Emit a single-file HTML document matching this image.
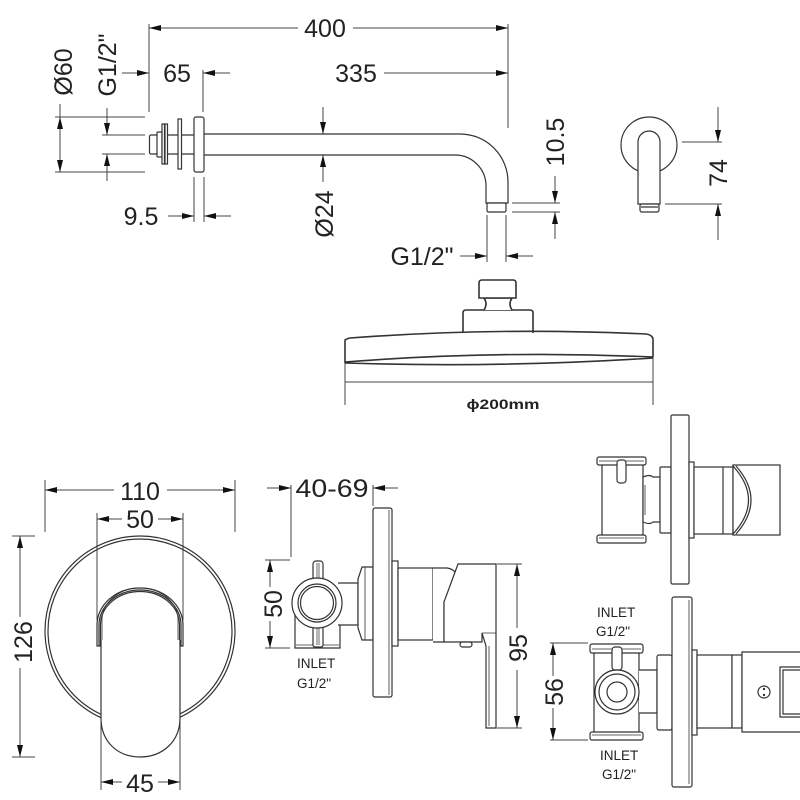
<!DOCTYPE html>
<html><head><meta charset="utf-8"><style>
html,body{margin:0;padding:0;background:#fff;}
svg{display:block;}
text{font-family:"Liberation Sans",Arial,sans-serif;fill:#222;}
.d{font-size:25px;}
.s{font-size:13.5px;}
</style></head><body>
<svg width="800" height="800" viewBox="0 0 800 800" xmlns="http://www.w3.org/2000/svg">
<rect width="800" height="800" fill="#fff"/>
<g fill="none" stroke="#444" stroke-width="1">
<!-- 400 -->
<path d="M149,24V112M508,24V128M149,28H298M353,28H508"/>
<!-- 65 / 335 -->
<path d="M122,73H149M203,70V112M203,73H230M384,73H508"/>
<!-- Ø60 -->
<path d="M55,117H145M55,172H145M60,104V172"/>
<!-- G1/2 top -->
<path d="M102,135H145M102,154H145M107,108V135M107,154V181"/>
<!-- Ø24 -->
<path d="M323,107V134M323,155V182"/>
<!-- 9.5 -->
<path d="M194,177V222M204,177V222M168,216H194M204,216H231"/>
<!-- 10.5 -->
<path d="M512,203H560M512,212H560M555,176V203M555,212V239"/>
<!-- G1/2 bottom -->
<path d="M487,215V262M506,215V262M460,256H487M506,256H533"/>
<!-- 74 -->
<path d="M682,142H722M665,204H722M718,107V142M718,204V240"/>
<!-- shower head dims -->
<path d="M345,339V405M653,337V405M345,382H653"/>
<!-- 110 -->
<path d="M45,480V532M235,480V532M45,490H114M167,490H235"/>
<!-- 50 -->
<path d="M97,513V620M183,513V620M97,519H122M158,519H183"/>
<!-- 126 -->
<path d="M12,536H35M12,757H35M20,536V617M20,668V757"/>
<!-- 45 -->
<path d="M101,720V790M180,720V790M101,782H122M158,782H180"/>
<!-- 40-69 -->
<path d="M291,485V557M373,485V506M267,488H291M373,488H398"/>
<!-- 50 mid -->
<path d="M265,560H290M265,648H290M270,560V587M270,621V648"/>
<!-- 95 -->
<path d="M497,564H522M497,728H522M517,564V628M517,670V728"/>
<!-- 56 -->
<path d="M550,643H588M550,740H588M553,643V676M553,708V740"/>
</g>
<g fill="#111" stroke="none">
<polygon points="161,25 149,28 161,31"/><polygon points="496,25 508,28 496,31"/>
<polygon points="137,70 149,73 137,76"/><polygon points="215,70 203,73 215,76"/><polygon points="496,70 508,73 496,76"/>
<polygon points="57,129 60,117 63,129"/><polygon points="57,160 60,172 63,160"/>
<polygon points="104,123 107,135 110,123"/><polygon points="104,166 107,154 110,166"/>
<polygon points="320,122 323,134 326,122"/><polygon points="320,167 323,155 326,167"/>
<polygon points="182,213 194,216 182,219"/><polygon points="216,213 204,216 216,219"/>
<polygon points="552,191 555,203 558,191"/><polygon points="552,224 555,212 558,224"/>
<polygon points="475,253 487,256 475,259"/><polygon points="518,253 506,256 518,259"/>
<polygon points="715,130 718,142 721,130"/><polygon points="715,216 718,204 721,216"/>
<polygon points="57,487 45,490 57,493"/><polygon points="223,487 235,490 223,493"/>
<polygon points="109,516 97,519 109,522"/><polygon points="171,516 183,519 171,522"/>
<polygon points="17,548 20,536 23,548"/><polygon points="17,745 20,757 23,745"/>
<polygon points="113,779 101,782 113,785"/><polygon points="168,779 180,782 168,785"/>
<polygon points="279,485 291,488 279,491"/><polygon points="385,485 373,488 385,491"/>
<polygon points="267,572 270,560 273,572"/><polygon points="267,636 270,648 273,636"/>
<polygon points="514,576 517,564 520,576"/><polygon points="514,716 517,728 520,716"/>
<polygon points="550,655 553,643 556,655"/><polygon points="550,728 553,740 556,728"/>
</g>

<!-- ===== Shower arm ===== -->
<g fill="#fff" stroke="#333" stroke-width="1.2">
<rect x="149.5" y="135" width="8" height="19" rx="1.5"/>
<rect x="157" y="132" width="5" height="25" rx="1"/>
<rect x="162" y="124" width="2.5" height="40"/>
<rect x="165" y="124" width="2.5" height="40"/>
<path d="M167.5,135H195M167.5,154H195"/>
<rect x="178" y="119" width="3.5" height="50"/>
<rect x="194" y="117" width="10" height="55" rx="2"/>
<path d="M204,134H460A48,48 0 0 1 508,182V203H486V186A31,31 0 0 0 455,155H204" fill="none"/>
<rect x="487" y="203" width="19" height="9" rx="1.5"/>
</g>
<!-- side view -->
<g fill="#fff" stroke="#333" stroke-width="1.2">
<circle cx="649" cy="145" r="28"/>
<path d="M638,204V142A11,11 0 0 1 660,142V204Z"/>
<rect x="640" y="204" width="19" height="8" rx="2"/>
<path d="M641,207H658" fill="none"/>
</g>

<!-- ===== Shower head ===== -->
<g fill="#fff" stroke="#333" stroke-width="1.6">
<path d="M463,333V313Q463,310 466,310H530Q533,310 533,313V333"/>
<path d="M484,310Q488,304 484,298H512Q508,304 512,310"/>
<path d="M479,298V283Q479,280 482,280H513Q516,280 516,283V298Z"/>
<path d="M345,363V341Q345,339 350,338Q499,327 646,334Q653,335 653,340V357" fill="none"/>
<path d="M345,362Q499,350 653,357" fill="none"/>
<path d="M345,363Q499,368 653,358" fill="none"/>
</g>

<!-- ===== Front view (bottom left) ===== -->
<g fill="none" stroke="#333" stroke-width="1.2">
<circle cx="140" cy="631" r="95"/>
<circle cx="140" cy="631" r="92"/>
</g>
<g fill="#fff" stroke="#333" stroke-width="1.2">
<path d="M97,646L97,625A43,37 0 0 1 183,625L183,646Z"/>
<path d="M99,646L99,625A41,35 0 0 1 181,625L181,646" fill="none"/>
<path d="M100.5,646L100.5,625A39.5,33.5 0 0 1 179.5,625L179.5,646" fill="none"/>
<path d="M101,640L101,718C101,742 118,757 140,757C162,757 180,742 180,718L180,640"/>
<path d="M102,640L102,620A38,32 0 0 1 178,620L178,640" fill="none" stroke-width="0.8"/>
</g>

<!-- ===== Side view (bottom middle) ===== -->
<g fill="#fff" stroke="#333" stroke-width="1.2">
<path d="M295,612V648H340V612" fill="none"/>
<path d="M296,645H339" fill="none" stroke-width="0.8"/>
<rect x="313" y="561" width="10" height="22" rx="3"/>
<rect x="313" y="622" width="10" height="25" rx="2"/>
<path d="M317,563V580M319,563V580M317,626V645M319,626V645" fill="none" stroke-width="0.7"/>
<path d="M338,583H358V625H338" />
<circle cx="317" cy="603" r="25"/>
<circle cx="317" cy="603" r="19"/>
<circle cx="317" cy="603" r="16.5"/>
<path d="M362,567H373V640H362L358,628V579Z"/>
<path d="M365,567V640" fill="none" stroke-width="0.8"/>
<rect x="373" y="508" width="19" height="189" rx="2"/>
<path d="M389,510V695" fill="none" stroke-width="0.8"/>
<rect x="392" y="561" width="6" height="85"/>
<rect x="398" y="568" width="35" height="72"/>
<path d="M433,568H447Q455,569 459,578L444,602V642H433" />
<path d="M458,564H496V728H486V646L482,633V642H444V602Z"/>
<path d="M482,633H496M489,646V726" fill="none" stroke-width="0.8"/>
<rect x="460" y="642" width="12" height="5" rx="2.5"/>
</g>

<!-- ===== Top right view ===== -->
<g fill="#fff" stroke="#333" stroke-width="1.2">
<path d="M602,465V535M643,465V535" fill="none"/>
<rect x="597" y="457" width="49" height="8" rx="2"/>
<path d="M599,461H644" fill="none" stroke-width="0.8"/>
<rect x="597" y="535" width="49" height="8" rx="2"/>
<path d="M599,538H644" fill="none" stroke-width="0.8"/>
<rect x="617" y="460" width="9" height="23" rx="3"/>
<path d="M643,477Q650,474 653,477H660V522H653Q650,525 643,522Z"/>
<path d="M645,485V515" fill="none" stroke-width="0.8"/>
<rect x="660" y="467" width="11" height="66" rx="1"/>
<rect x="671" y="415" width="18" height="169" rx="1.5"/>
<rect x="689" y="462" width="5" height="76"/>
<rect x="694" y="467" width="39" height="67"/>
<path d="M723,467V534" fill="none"/>
<rect x="733" y="465" width="47" height="70"/>
<path d="M733,466Q764,500 733,534M736,466Q766,500 736,534" fill="none"/>
</g>

<!-- ===== Bottom right view ===== -->
<g fill="#fff" stroke="#333" stroke-width="1.2">
<path d="M594,653V732M639,653V732" fill="none"/>
<rect x="590" y="644" width="53" height="9" rx="2"/>
<path d="M592,649H641" fill="none" stroke-width="0.8"/>
<rect x="590" y="732" width="53" height="8" rx="2"/>
<path d="M592,735H641" fill="none" stroke-width="0.8"/>
<rect x="612" y="647" width="10" height="23" rx="3"/>
<path d="M639,670H657V713H639"/>
<circle cx="617" cy="692" r="22"/>
<circle cx="617" cy="692" r="18"/>
<circle cx="617" cy="692" r="10"/>
<rect x="657" y="655" width="15" height="75" rx="2"/>
<rect x="672" y="597" width="20" height="190" rx="2"/>
<path d="M689,600V784" fill="none" stroke-width="0.8"/>
<rect x="692" y="650" width="5" height="85"/>
<rect x="697" y="655" width="35" height="73"/>
<rect x="732" y="655" width="10" height="73"/>
<path d="M801,652H742V732H801" />
<path d="M801,667H780V717H801M801,670H783V714H801" fill="none"/>
<circle cx="764" cy="692" r="6"/>
</g>
<circle cx="764" cy="689" r="1.2" fill="#333"/>
<circle cx="764" cy="695" r="1.2" fill="#333"/>

<!-- ===== Text ===== -->
<text class="d" x="325" y="37" text-anchor="middle">400</text>
<text class="d" x="177" y="82" text-anchor="middle">65</text>
<text class="d" x="356" y="82" text-anchor="middle">335</text>
<text class="d" x="141" y="225" text-anchor="middle">9.5</text>
<text class="d" x="422" y="265" text-anchor="middle" font-size="24">G1/2"</text>
<text class="d" transform="translate(72,72) rotate(-90)" text-anchor="middle">Ø60</text>
<text class="d" transform="translate(116,65) rotate(-90)" text-anchor="middle">G1/2"</text>
<text class="d" transform="translate(333,214) rotate(-90)" text-anchor="middle">Ø24</text>
<text class="d" transform="translate(564,142) rotate(-90)" text-anchor="middle">10.5</text>
<text class="d" transform="translate(727,173) rotate(-90)" text-anchor="middle">74</text>
<text x="503" y="409" text-anchor="middle" font-size="14" font-weight="bold" textLength="73" lengthAdjust="spacingAndGlyphs">ϕ200mm</text>
<text class="d" x="140" y="500" text-anchor="middle">110</text>
<text class="d" x="140" y="528" text-anchor="middle">50</text>
<text class="d" x="140" y="792" text-anchor="middle">45</text>
<text class="d" transform="translate(32,642) rotate(-90)" text-anchor="middle">126</text>
<text class="d" x="332" y="497" text-anchor="middle" textLength="73" lengthAdjust="spacingAndGlyphs">40-69</text>
<text class="d" transform="translate(282,604) rotate(-90)" text-anchor="middle">50</text>
<text class="d" transform="translate(527,648) rotate(-90)" text-anchor="middle">95</text>
<text class="d" transform="translate(563,692) rotate(-90)" text-anchor="middle">56</text>
<text class="s" x="297" y="668">INLET</text>
<text class="s" x="297" y="688">G1/2"</text>
<text class="s" x="597" y="617">INLET</text>
<text class="s" x="596" y="636">G1/2"</text>
<text class="s" x="600" y="760">INLET</text>
<text class="s" x="602" y="779">G1/2"</text>
</svg>
</body></html>
